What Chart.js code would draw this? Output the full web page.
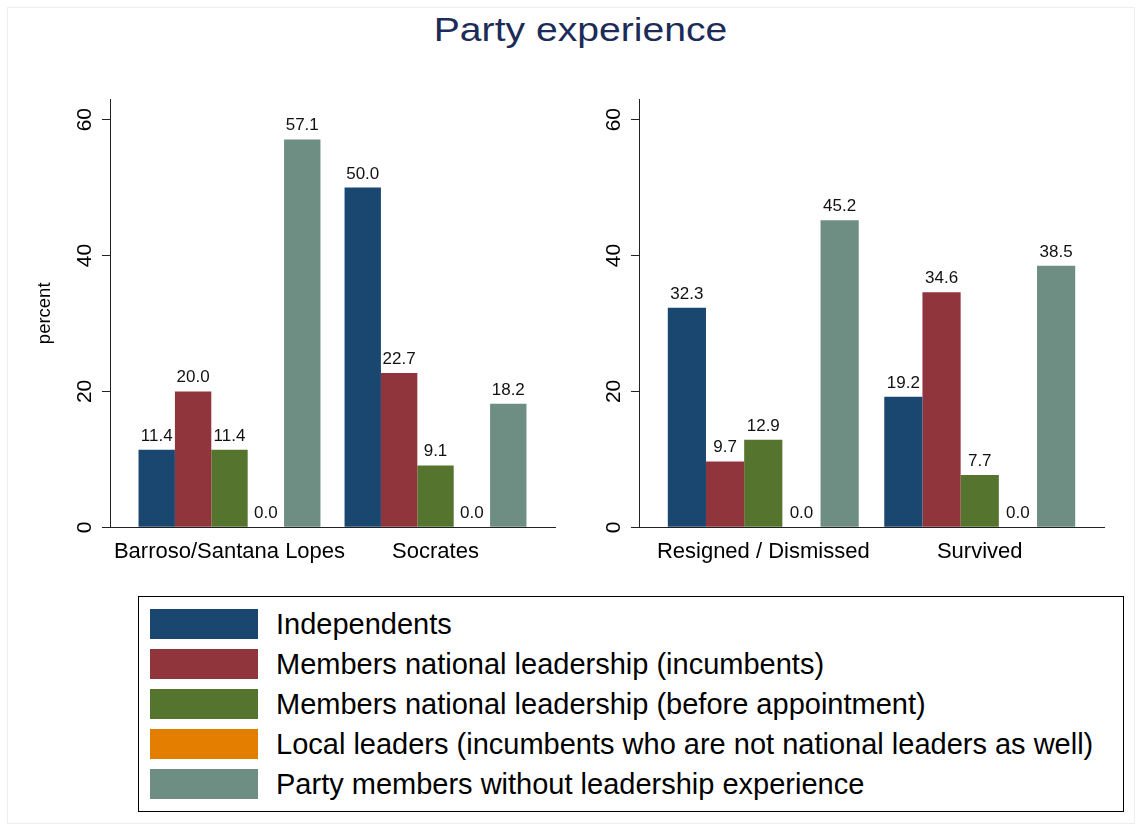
<!DOCTYPE html>
<html>
<head>
<meta charset="utf-8">
<script src="https://cdn.jsdelivr.net/npm/chart.js@4.4.1/dist/chart.umd.min.js"></script>
<style>
  html, body { margin: 0; padding: 0; background: #fff; }
  body { width: 1142px; height: 831px; position: relative; overflow: hidden; font-family: "Liberation Sans", Arial, sans-serif; }
  #frame { position: absolute; left: 7px; top: 7px; right: 7px; bottom: 7px; border: 1px solid #eeeeee; }
  #title { position: absolute; left: 0; top: 12px; width: 1161px; text-align: center; font-size: 34px; line-height: 34px; color: #1c2b58; transform: scaleX(1.15); transform-origin: 580.5px 0; white-space: nowrap; }
  #cLeft { position: absolute; left: 0; top: 0; }
  #cRight { position: absolute; left: 580px; top: 0; }
  #legend { position: absolute; left: 138px; top: 596px; width: 986px; height: 216px; box-sizing: border-box; border: 1px solid #000; background: #fff; }
  .row { position: absolute; left: 11px; height: 30px; display: block; white-space: nowrap; }
  .sw { position: absolute; left: 0; top: 0; width: 108px; height: 30px; }
  .tx { position: absolute; left: 126px; top: 0; font-size: 29px; line-height: 30px; color: #000; }
</style>
</head>
<body>
<div id="frame"></div>
<div id="title">Party experience</div>
<canvas id="cLeft" width="580" height="580"></canvas>
<canvas id="cRight" width="562" height="580"></canvas>
<div id="legend"></div>
<script>
// ---- data ----
const seriesNames = [
  'Independents',
  'Members national leadership (incumbents)',
  'Members national leadership (before appointment)',
  'Local leaders (incumbents who are not national leaders as well)',
  'Party members without leadership experience'
];
const seriesColors = ['#1a476f', '#90353b', '#55752f', '#e37e00', '#6e8e84'];

const categoriesLeft = ['Barroso/Santana Lopes', 'Socrates'];
const independentsLeft = [11.4, 50.0];
const natIncumbentsLeft = [20.0, 22.7];
const natBeforeLeft = [11.4, 9.1];
const localLeadersLeft = [0.0, 0.0];
const noLeadershipLeft = [57.1, 18.2];

const categoriesRight = ['Resigned / Dismissed', 'Survived'];
const independentsRight = [32.3, 19.2];
const natIncumbentsRight = [9.7, 34.6];
const natBeforeRight = [12.9, 7.7];
const localLeadersRight = [0.0, 0.0];
const noLeadershipRight = [45.2, 38.5];

const yAxisMin = 0;
const yAxisMax = 63;
const yTickStep = 20;
const yAxisTitle = 'percent';
const chartTitle = 'Party experience';

// ---- setup ----
Chart.defaults.font.family = '"Liberation Sans", Arial, sans-serif';
Chart.defaults.color = '#000';

const valueLabels = {
  id: 'valueLabels',
  afterDatasetsDraw(chart) {
    const ctx = chart.ctx;
    ctx.save();
    ctx.font = '17px "Liberation Sans", Arial, sans-serif';
    ctx.fillStyle = '#111';
    ctx.textAlign = 'center';
    ctx.textBaseline = 'alphabetic';
    chart.data.datasets.forEach((ds, di) => {
      const meta = chart.getDatasetMeta(di);
      meta.data.forEach((el, i) => {
        const v = ds.data[i];
        ctx.fillText(v.toFixed(1), el.x, el.y - 9);
      });
    });
    ctx.restore();
  }
};

function makeChart(id, categories, seriesValues, cfg) {
  const datasets = seriesValues.map((vals, i) => ({
    label: seriesNames[i],
    data: vals,
    backgroundColor: seriesColors[i],
    borderWidth: 0,
    categoryPercentage: cfg.catPct,
    barPercentage: 1.0
  }));
  return new Chart(document.getElementById(id), {
    type: 'bar',
    data: { labels: categories, datasets },
    plugins: [valueLabels],
    options: {
      responsive: false,
      animation: false,
      events: [],
      layout: { padding: { top: 99.3, right: cfg.padRight, bottom: 0, left: 0 } },
      plugins: { legend: { display: false }, tooltip: { enabled: false }, title: { display: false } },
      scales: {
        x: {
          grid: { display: false },
          border: { display: true, color: '#222', width: 1 },
          ticks: { font: { size: 22 }, color: '#000', padding: 3, maxRotation: 0, autoSkip: false },
          afterBuildTicks(axis) {
            axis._startValue -= cfg.extend;
            axis._valueRange += 2 * cfg.extend;
          },
          afterFit(axis) { axis.height = 580 - 527.3; }
        },
        y: {
          min: yAxisMin,
          max: yAxisMax,
          grid: { display: true, drawOnChartArea: false, drawTicks: true, tickLength: 8, color: '#222', tickColor: '#222' },
          border: { display: true, color: '#222', width: 1 },
          ticks: { stepSize: yTickStep, includeBounds: false, minRotation: 90, maxRotation: 90, crossAlign: 'center', padding: 5, font: { size: 21 }, color: '#000' },
          title: cfg.showTitle ? { display: true, text: yAxisTitle, font: { size: 18.5 }, color: '#000', padding: { top: 34, bottom: 0 } } : { display: false },
          afterFit(axis) { axis.width = cfg.yWidth; }
        }
      }
    }
  });
}

makeChart('cLeft', categoriesLeft,
  [independentsLeft, natIncumbentsLeft, natBeforeLeft, localLeadersLeft, noLeadershipLeft],
  { catPct: 0.883, extend: 0.08, padRight: 25, yWidth: 110, showTitle: true });
makeChart('cRight', categoriesRight,
  [independentsRight, natIncumbentsRight, natBeforeRight, localLeadersRight, noLeadershipRight],
  { catPct: 0.882, extend: 0.074, padRight: 38, yWidth: 59, showTitle: false });

// ---- legend (HTML, built from series arrays) ----
const legend = document.getElementById('legend');
seriesNames.forEach((name, i) => {
  const row = document.createElement('div');
  row.className = 'row';
  row.style.top = (11.5 + 40 * i) + 'px';
  const sw = document.createElement('div');
  sw.className = 'sw';
  sw.style.background = seriesColors[i];
  const tx = document.createElement('div');
  tx.className = 'tx';
  tx.textContent = name;
  row.appendChild(sw); row.appendChild(tx);
  legend.appendChild(row);
});
document.getElementById('title').textContent = chartTitle;
</script>
</body>
</html>
